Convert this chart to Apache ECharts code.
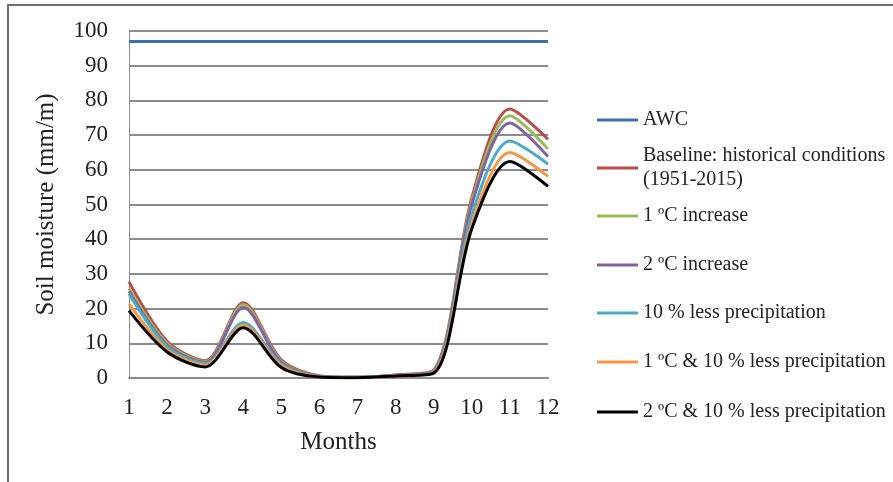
<!DOCTYPE html>
<html>
<head>
<meta charset="utf-8">
<script src="https://cdn.jsdelivr.net/npm/echarts@6/dist/echarts.min.js"></script>
<style>
html,body{margin:0;padding:0;background:#fff;}
#main{width:893px;height:482px;}
</style>
</head>
<body>
<div id="main"></div>
<script>
var months = ['1','2','3','4','5','6','7','8','9','10','11','12'];
var awc       = [97, 97, 97, 97, 97, 97, 97, 97, 97, 97, 97, 97];
var baseline  = [27.7, 10.6, 5.0, 21.7, 5.2, 0.6, 0.2, 0.9, 2.3, 52, 77.5, 68.8];
var inc1      = [25.8, 10.0, 4.7, 21.1, 4.8, 0.5, 0.2, 0.8, 2.1, 51, 75.6, 66.0];
var inc2      = [25.0, 9.5, 4.5, 20.3, 4.5, 0.5, 0.2, 0.8, 2.0, 50, 73.5, 63.8];
var lessP     = [24.2, 9.0, 4.2, 16.0, 4.0, 0.4, 0.2, 0.7, 1.8, 47, 68.3, 61.6];
var inc1lessP = [21.4, 8.2, 3.7, 15.2, 3.5, 0.3, 0.1, 0.6, 1.6, 44.5, 65.0, 58.1];
var inc2lessP = [19.4, 7.5, 3.2, 14.5, 3.0, 0.3, 0.1, 0.6, 1.4, 43, 62.4, 55.2];

var names = ['AWC', 'Baseline: historical conditions (1951-2015)', '1 ºC increase', '2 ºC increase',
             '10 % less precipitation', '1 ºC & 10 % less precipitation', '2 ºC & 10 % less precipitation'];
var colors = ['#3b70b0', '#be4b48', '#9bbb59', '#8064a2', '#4bacc6', '#f79646', '#000000'];
var datas = [awc, baseline, inc1, inc2, lessP, inc1lessP, inc2lessP];
var legendY = [120, 168, 216, 265, 313, 362, 412];

var font = 'Liberation Serif';
var chart = echarts.init(document.getElementById('main'));

var series = datas.map(function (d, i) {
  return {
    name: names[i],
    type: 'line',
    data: d,
    smooth: i === 0 ? false : 0.3,
    symbol: 'none',
    lineStyle: { width: 3, color: colors[i] },
    itemStyle: { color: colors[i] },
    z: 2 + i
  };
});

var legends = names.map(function (n, i) {
  var isBase = i === 1;
  return {
    data: [n],
    left: 597,
    top: isBase ? legendY[i] - 36 : legendY[i] - 10,
    padding: 0,
    icon: 'rect',
    itemWidth: 41,
    itemHeight: 3,
    selectedMode: false,
    formatter: isBase ? function () { return 'Baseline: historical conditions\n(1951-2015)'; } : undefined,
    textStyle: {
      fontFamily: font,
      fontSize: 20,
      color: '#222',
      lineHeight: isBase ? 24 : 20,
      padding: isBase ? [24, 0, 0, 0] : 0
    }
  };
});

chart.setOption({
  animation: false,
  backgroundColor: '#fff',
  graphic: [{
    type: 'rect',
    shape: { x: 8, y: 5, width: 1000, height: 600 },
    style: { fill: 'none', stroke: '#6e6e6e', lineWidth: 2 },
    silent: true
  }],
  grid: { left: 129, right: 345, top: 31, bottom: 104 },
  legend: legends,
  xAxis: {
    type: 'category',
    data: months,
    boundaryGap: false,
    name: 'Months',
    nameLocation: 'middle',
    nameGap: 52,
    nameTextStyle: { fontFamily: font, fontSize: 25, color: '#222' },
    axisLine: { show: true, lineStyle: { color: '#8c8c8c', width: 2 } },
    axisTick: { show: false },
    axisLabel: { fontFamily: font, fontSize: 23, color: '#222', margin: 18 },
    splitLine: { show: false }
  },
  yAxis: {
    type: 'value',
    min: 0, max: 100, interval: 10,
    name: 'Soil moisture (mm/m)',
    nameLocation: 'middle',
    nameGap: 70,
    nameTextStyle: { fontFamily: font, fontSize: 25, color: '#222' },
    axisLine: { show: true, lineStyle: { color: '#8c8c8c', width: 1 } },
    axisTick: { show: false },
    axisLabel: { fontFamily: font, fontSize: 23, color: '#222', margin: 21 },
    splitLine: { show: true, lineStyle: { color: '#8c8c8c', width: 2 } }
  },
  series: series
});
</script>
</body>
</html>
